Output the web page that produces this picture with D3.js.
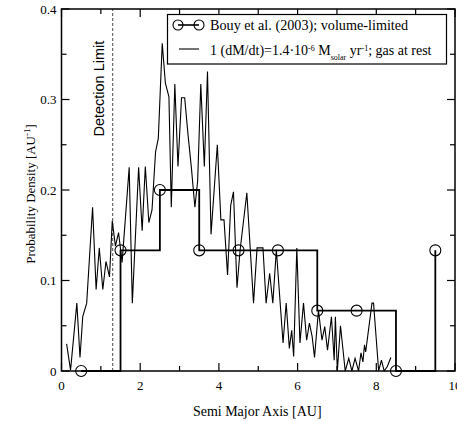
<!DOCTYPE html>
<html><head><meta charset="utf-8">
<script src="https://cdn.jsdelivr.net/npm/d3@7"></script>
<style>
html,body{margin:0;padding:0;background:#fff;}
svg{display:block;}
text{font-family:"Liberation Serif","Times New Roman",serif;fill:#000;}
</style></head>
<body>
<script>
// ---- data ----
const bouyX = [0.5, 1.5, 2.5, 3.5, 4.5, 5.5, 6.5, 7.5, 8.5, 9.5];
const bouyY = [0, 0.1333, 0.2, 0.1333, 0.1333, 0.1333, 0.0667, 0.0667, 0, 0.1333];
const simX = [0.13,0.23,0.39,0.47,0.54,0.64,0.79,0.88,0.96,1.05,1.13,1.22,1.29,1.37,1.45,1.54,1.72,1.80,1.96,2.05,2.13,2.22,2.30,2.39,2.46,2.56,2.64,2.73,2.79,2.88,2.96,3.05,3.13,3.22,3.30,3.39,3.46,3.54,3.63,3.71,3.80,3.96,4.05,4.13,4.22,4.30,4.37,4.46,4.54,4.71,4.88,4.97,5.12,5.20,5.29,5.37,5.46,5.63,5.71,5.79,5.85,5.90,5.98,6.06,6.15,6.23,6.30,6.37,6.43,6.53,6.62,6.69,6.76,6.86,6.93,6.96,7.01,7.09,7.21,7.30,7.38,7.46,7.55,7.61,7.66,7.70,7.73,7.89,7.93,8.06,8.13,8.20,8.28,8.37];
const simY = [0.030,0.001,0.075,0.015,0.060,0.075,0.181,0.090,0.136,0.090,0.121,0.104,0.166,0.138,0.153,0.120,0.225,0.075,0.225,0.155,0.226,0.164,0.178,0.242,0.257,0.362,0.318,0.303,0.181,0.317,0.226,0.302,0.302,0.259,0.225,0.181,0.210,0.317,0.226,0.331,0.151,0.250,0.167,0.167,0.106,0.183,0.198,0.092,0.134,0.197,0.075,0.136,0.136,0.075,0.108,0.075,0.134,0.031,0.075,0.025,0.045,0.016,0.136,0.031,0.075,0.034,0.053,0.038,0.015,0.067,0.034,0.049,0.023,0.060,0.012,0.060,0.000,0.050,0.000,0.014,0.000,0.014,0.000,0.020,0.010,0.029,0.021,0.075,0.075,0.000,0.012,0.000,0.005,0.015];
const detectionLimit = 1.3;
const xMajor = [0, 2, 4, 6, 8, 10];
const xMinor = [1, 3, 5, 7, 9];
const yMajor = [0, 0.1, 0.2, 0.3, 0.4];
const yMinor = [0.05, 0.15, 0.25, 0.35];
const xTickLabels = ["0", "2", "4", "6", "8", "10"];
const yTickLabels = ["0", "0.1", "0.2", "0.3", "0.4"];

// ---- layout ----
const W = 457, H = 421;
const L = 61.5, R = 455, T = 9, B = 371;
const x = d3.scaleLinear().domain([0, 10]).range([L, R]);
const y = d3.scaleLinear().domain([0, 0.4]).range([B, T]);

const svg = d3.select("body").append("svg").attr("width", W).attr("height", H);

// detection limit
svg.append("line")
  .attr("x1", x(detectionLimit)).attr("x2", x(detectionLimit))
  .attr("y1", y(0)).attr("y2", y(0.4))
  .attr("stroke", "#666").attr("stroke-width", 1.2).attr("stroke-dasharray", "3,2");
svg.append("text")
  .attr("transform", `translate(${x(detectionLimit) - 9},${y(0.312)}) rotate(-90)`)
  .attr("text-anchor", "middle")
  .style("font-family", "'Liberation Sans', Arial, sans-serif")
  .style("font-size", "14.5px")
  .text("Detection Limit");

// simulation line
const sim = simX.map((v, i) => [v, simY[i]]);
svg.append("path")
  .datum(sim)
  .attr("fill", "none").attr("stroke", "#000").attr("stroke-width", 1.1)
  .attr("stroke-linejoin", "miter")
  .attr("d", d3.line().x(d => x(d[0])).y(d => y(d[1])));

// Bouy step histogram
const bouy = bouyX.map((v, i) => [v, bouyY[i]]);
svg.append("path")
  .datum(bouy)
  .attr("fill", "none").attr("stroke", "#000").attr("stroke-width", 1.8)
  .attr("d", d3.line().x(d => x(d[0])).y(d => y(d[1])).curve(d3.curveStepAfter));
svg.selectAll("circle.bouy").data(bouy).enter().append("circle")
  .attr("class", "bouy")
  .attr("cx", d => x(d[0])).attr("cy", d => y(d[1])).attr("r", 5.5)
  .attr("fill", "none").attr("stroke", "#000").attr("stroke-width", 1.1);

// frame
svg.append("rect")
  .attr("x", L).attr("y", T).attr("width", R - L).attr("height", B - T)
  .attr("fill", "none").attr("stroke", "#000").attr("stroke-width", 1.5);

// ticks (inward, mirrored)
const tk = svg.append("g").attr("stroke", "#000").attr("stroke-width", 1.2);
xMajor.forEach(v => {
  tk.append("line").attr("x1", x(v)).attr("x2", x(v)).attr("y1", B).attr("y2", B - 8);
  tk.append("line").attr("x1", x(v)).attr("x2", x(v)).attr("y1", T).attr("y2", T + 8);
});
xMinor.forEach(v => {
  tk.append("line").attr("x1", x(v)).attr("x2", x(v)).attr("y1", B).attr("y2", B - 5);
  tk.append("line").attr("x1", x(v)).attr("x2", x(v)).attr("y1", T).attr("y2", T + 5);
});
yMajor.forEach(v => {
  tk.append("line").attr("x1", L).attr("x2", L + 8).attr("y1", y(v)).attr("y2", y(v));
  tk.append("line").attr("x1", R).attr("x2", R - 8).attr("y1", y(v)).attr("y2", y(v));
});
yMinor.forEach(v => {
  tk.append("line").attr("x1", L).attr("x2", L + 5).attr("y1", y(v)).attr("y2", y(v));
  tk.append("line").attr("x1", R).attr("x2", R - 5).attr("y1", y(v)).attr("y2", y(v));
});

// tick labels
svg.selectAll("text.xl").data(xMajor).enter().append("text")
  .attr("x", d => x(d)).attr("y", B + 19)
  .attr("text-anchor", "middle").style("font-size", "13px")
  .text((d, i) => xTickLabels[i]);
svg.selectAll("text.yl").data(yMajor).enter().append("text")
  .attr("x", L - 5).attr("y", d => y(d) + 4.5)
  .attr("text-anchor", "end").style("font-size", "13px")
  .text((d, i) => yTickLabels[i]);

// axis titles
svg.append("text").attr("x", (L + R) / 2 - 1).attr("y", 416)
  .attr("text-anchor", "middle").style("font-size", "14px")
  .text("Semi Major Axis [AU]");
const yt = svg.append("text")
  .attr("transform", `translate(35,${(T + B) / 2 + 4}) rotate(-90)`)
  .attr("text-anchor", "middle").style("font-size", "13px");
yt.append("tspan").text("Probability Density [AU");
yt.append("tspan").attr("baseline-shift", "super").style("font-size", "9px").text("-1");
yt.append("tspan").text("]");

// legend
const lg = svg.append("g");
lg.append("rect").attr("x", 167.5).attr("y", 14.5).attr("width", 279).attr("height", 49.5)
  .attr("fill", "#fff").attr("stroke", "#000").attr("stroke-width", 1.2);
lg.append("line").attr("x1", 178).attr("x2", 199).attr("y1", 25).attr("y2", 25)
  .attr("stroke", "#000").attr("stroke-width", 1.6);
[178, 199].forEach(cx => lg.append("circle").attr("cx", cx).attr("cy", 25).attr("r", 5)
  .attr("fill", "none").attr("stroke", "#000").attr("stroke-width", 1.1));
lg.append("text").attr("x", 210).attr("y", 30).style("font-size", "14.2px")
  .text("Bouy et al. (2003); volume-limited");
lg.append("line").attr("x1", 179).attr("x2", 199).attr("y1", 49).attr("y2", 49)
  .attr("stroke", "#000").attr("stroke-width", 1.1);
const t2 = lg.append("text").attr("x", 210).attr("y", 54.5).style("font-size", "14px");
t2.append("tspan").text("1 (dM/dt)=1.4\u00b710");
t2.append("tspan").attr("baseline-shift", "super").style("font-size", "8px").text("-6");
t2.append("tspan").text(" M");
t2.append("tspan").attr("baseline-shift", "sub").style("font-size", "8px").text("solar");
t2.append("tspan").text(" yr");
t2.append("tspan").attr("baseline-shift", "super").style("font-size", "8px").text("-1");
t2.append("tspan").text("; gas at rest");
</script>
</body></html>
